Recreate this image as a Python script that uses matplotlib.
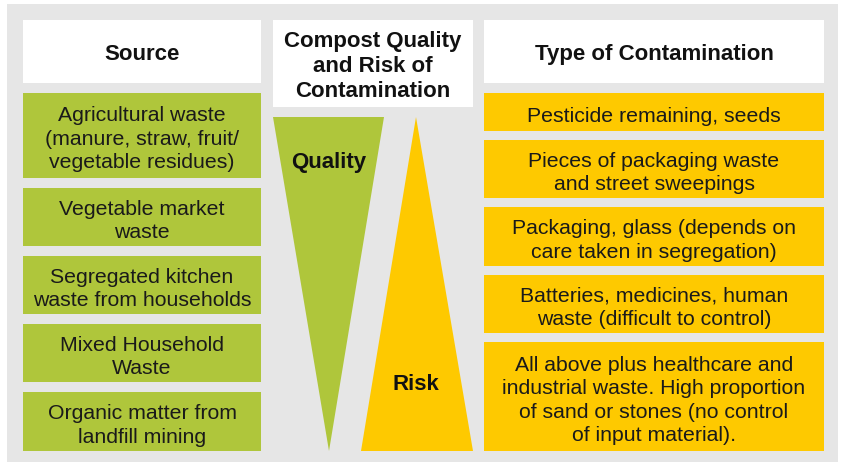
import matplotlib
matplotlib.use('Agg')
import matplotlib.pyplot as plt
from matplotlib.patches import Rectangle, Polygon

# ── Content ──────────────────────────────────────────────────────────────────
headers = ['Source', 'Compost Quality\nand Risk of\nContamination', 'Type of Contamination']
sources = [
    'Agricultural waste\n(manure, straw, fruit/\nvegetable residues)',
    'Vegetable market\nwaste',
    'Segregated kitchen\nwaste from households',
    'Mixed Household\nWaste',
    'Organic matter from\nlandfill mining',
]
contaminations = [
    'Pesticide remaining, seeds',
    'Pieces of packaging waste\nand street sweepings',
    'Packaging, glass (depends on\ncare taken in segregation)',
    'Batteries, medicines, human\nwaste (difficult to control)',
    'All above plus healthcare and\nindustrial waste. High proportion\nof sand or stones (no control\nof input material).',
]
triangle_labels = ['Quality', 'Risk']

# ── Layout (pixel coords) ────────────────────────────────────────────────────
W, H = 842, 464
GRAY, GREEN, YELLOW = '#e6e6e6', '#afc63b', '#fec900'
left_rows = [(94, 179), (189, 247), (257, 315), (325, 383), (393, 452)]
right_rows = [(94, 132), (141, 199), (208, 267), (276, 334), (343, 452)]
LX0, LX1 = 23, 261
MX0, MX1 = 273, 473
RX0, RX1 = 484, 824
BODY, HEAD = 15.3, 16

plt.rcParams['font.family'] = ['Liberation Sans', 'DejaVu Sans']
fig = plt.figure(figsize=(W / 100, H / 100), dpi=100)
ax = fig.add_axes([0, 0, 1, 1])
ax.set_xlim(0, W)
ax.set_ylim(H, 0)
ax.axis('off')

ax.add_patch(Rectangle((7, 5), 831, 458, color=GRAY, lw=0))

# headers
hdr_boxes = [(LX0, LX1, 21, 84), (MX0, MX1, 21, 108), (RX0, RX1, 21, 84)]
for txt, (x0, x1, y0, y1) in zip(headers, hdr_boxes):
    ax.add_patch(Rectangle((x0, y0), x1 - x0, y1 - y0, color='white', lw=0))
    ax.text((x0 + x1) / 2, (y0 + y1) / 2 + 2, txt, ha='center', va='center',
            fontsize=HEAD, fontweight='bold', color='#111111', linespacing=1.25)

# left column
for txt, (y0, y1) in zip(sources, left_rows):
    ax.add_patch(Rectangle((LX0, y0), LX1 - LX0, y1 - y0, color=GREEN, lw=0))
    ax.text((LX0 + LX1) / 2, (y0 + y1) / 2 + 3, txt, ha='center', va='center',
            fontsize=BODY, color='#1a1a1a', linespacing=1.3)

# right column
for txt, (y0, y1) in zip(contaminations, right_rows):
    ax.add_patch(Rectangle((RX0, y0), RX1 - RX0, y1 - y0, color=YELLOW, lw=0))
    ax.text((RX0 + RX1) / 2, (y0 + y1) / 2 + 3, txt, ha='center', va='center',
            fontsize=BODY, color='#1a1a1a', linespacing=1.3)

# triangles
ax.add_patch(Polygon([(273, 118), (384, 118), (329, 452)], closed=True,
                     color=GREEN, lw=0))
ax.add_patch(Polygon([(416, 118), (473, 452), (361, 452)], closed=True,
                     color=YELLOW, lw=0))
ax.text(329, 163, triangle_labels[0], ha='center', va='center',
        fontsize=HEAD, fontweight='bold', color='#111111')
ax.text(416, 385, triangle_labels[1], ha='center', va='center',
        fontsize=HEAD, fontweight='bold', color='#111111')

fig.savefig('out.png', dpi=100, facecolor='white')
